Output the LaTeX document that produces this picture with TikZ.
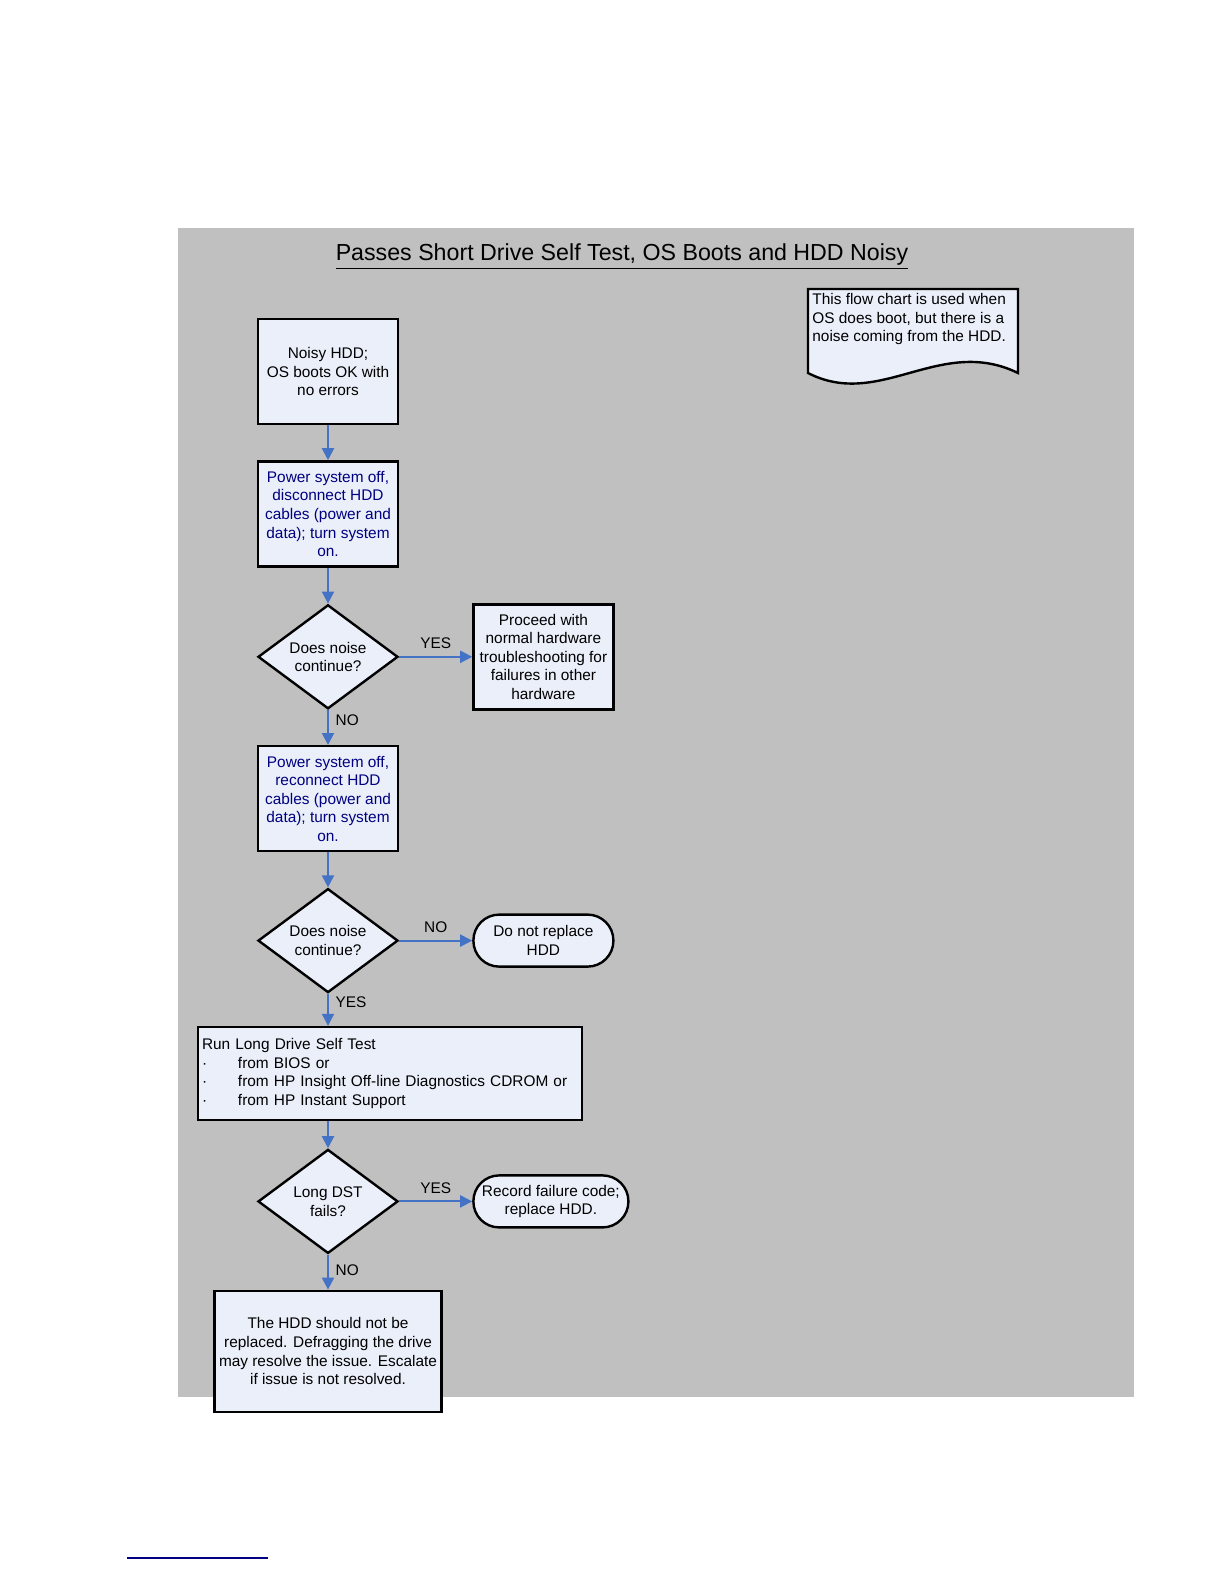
\documentclass[tikz,border=0pt]{standalone}
\usepackage{fontspec}
\setmainfont{Liberation Sans}
\usetikzlibrary{arrows.meta,positioning,shapes.geometric}
\definecolor{panelgray}{RGB}{192,192,192}
\definecolor{boxfill}{RGB}{234,239,249}
\definecolor{flowblue}{RGB}{68,114,196}
\definecolor{stepnavy}{RGB}{0,0,128}

\begin{document}
\begin{tikzpicture}[
    x=0.5pt, y=-0.5pt,
    node distance=17.5pt,
    font=\fontsize{7.7}{9.3}\selectfont,
    box/.style={draw, fill=boxfill, line width=1.2pt, align=center, inner sep=2pt, minimum width=70pt, minimum height=52.5pt},
    decision/.style={diamond, draw, fill=boxfill, line width=1.2pt, align=center, aspect=1.35, inner sep=0pt, minimum width=70pt, minimum height=52pt},
    terminal/.style={draw, fill=boxfill, line width=1.2pt, rounded corners=12.9pt, align=center, minimum height=26pt},
    arrow/.style={draw=flowblue, line width=1pt, -{Triangle[length=6pt, width=6pt]}}
]
\useasboundingbox (0,0) rectangle (1224,1584);
\fill[panelgray] (178,228) rectangle (1134,1397);
\node[font=\fontsize{11.6}{14}\selectfont] (title) at (622,257) {\underline{Passes Short Drive Self Test, OS Boots and HDD Noisy}};

% note in the corner
\draw[line width=1.2pt, fill=boxfill] (808,289) -- (1018,289) -- (1018,373)
    .. controls (940,335) and (880,410) .. (808,373) -- cycle;
\node[anchor=north west, align=left, inner sep=0pt] (note) at (812,293) {This flow chart is used when\\OS does boot, but there is a\\noise coming from the HDD.};

% main flow
\node[box] (noisy) at (328,371.5) {Noisy HDD;\\OS boots OK with\\no errors};
\node[box, below=of noisy, text=stepnavy] (unplug) {Power system off,\\disconnect HDD\\cables (power and\\data); turn system\\on.};
\node[decision, below=18pt of unplug] (noise1) {Does noise\\continue?};
\node[box, right=36.5pt of noise1] (proceed) {Proceed with\\normal hardware\\troubleshooting for\\failures in other\\hardware};
\node[box, below=of noise1, text=stepnavy] (replug) {Power system off,\\reconnect HDD\\cables (power and\\data); turn system\\on.};
\node[decision, below=of replug] (noise2) {Does noise\\continue?};
\node[terminal, right=36.5pt of noise2, minimum width=70pt] (keep) {Do not replace\\HDD};
\node[box, below=16pt of noise2, xshift=31pt, align=left, text width=188pt, minimum height=46.5pt] (longdst) {Run Long Drive Self Test\\
    \makebox[18pt][l]{·}from BIOS or\\
    \makebox[18pt][l]{·}from HP Insight Off-line Diagnostics CDROM or\\
    \makebox[18pt][l]{·}from HP Instant Support};
\node[decision, below=13.5pt of longdst, xshift=-31pt] (longfail) {Long DST\\fails?};
\node[terminal, right=36.5pt of longfail, minimum width=77.5pt] (replace) {Record failure code;\\replace HDD.};
\node[box, below=of longfail, minimum width=113.5pt, minimum height=60.5pt] (advice) {The HDD should not be\\replaced. Defragging the drive\\may resolve the issue. Escalate\\if issue is not resolved.};

\draw[arrow] (noisy) -- (unplug);
\draw[arrow] (unplug) -- (noise1);
\draw[arrow] (noise1) -- node[above]{YES} (proceed);
\draw[arrow] (noise1) -- node[right, pos=0.3]{NO} (replug);
\draw[arrow] (replug) -- (noise2);
\draw[arrow] (noise2) -- node[above]{NO} (keep);
\draw[arrow] (noise2.south) -- node[right, pos=0.25]{YES} (noise2.south |- longdst.north);
\draw[arrow] (longdst.south -| longfail) -- (longfail);
\draw[arrow] (longfail) -- node[above]{YES} (replace);
\draw[arrow] (longfail) -- node[right, pos=0.45]{NO} (advice);

\draw[stepnavy, line width=1pt] (127,1558) -- (268,1558);
\end{tikzpicture}
\end{document}
